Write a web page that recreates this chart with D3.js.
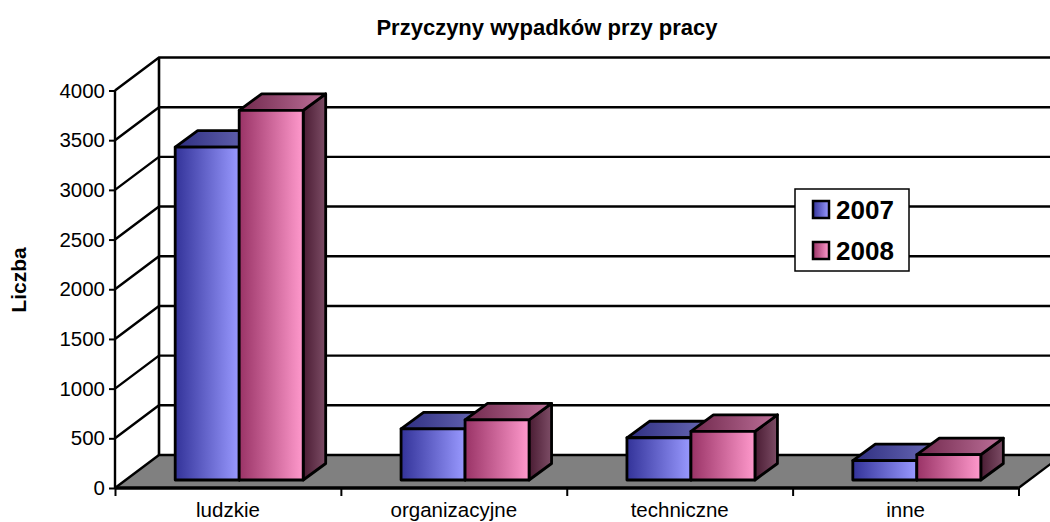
<!DOCTYPE html>
<html>
<head>
<meta charset="utf-8">
<script src="https://cdn.jsdelivr.net/npm/d3@7"></script>
<style>
html, body { margin:0; padding:0; background:#fff; overflow:hidden; }
text { font-family:"Liberation Sans", Arial, sans-serif; fill:#000; }
</style>
</head>
<body>
<div class="c_chart"></div>
<script>

/*DATA
------------------------------------------------------
*/
const categories = ["ludzkie", "organizacyjne", "techniczne", "inne"];
const series = ["2007", "2008"];
const values2007 = [3350, 515, 425, 195];
const values2008 = [3720, 605, 490, 255];
const yTicks = [0, 500, 1000, 1500, 2000, 2500, 3000, 3500, 4000];

/*INITIATE
------------------------------------------------------
*/
const width = 1050;
const height = 522;
const wallDx = 44, wallDy = 33;   //depth of the whole 3d box
const barDx = 22.5, barDy = 16.5; //depth of one bar
const floorGap = 8;               //bars stand a bit behind the front edge

const svg = d3.select(".c_chart").append("svg")
	.attr("width", width)
	.attr("height", height)
	.style("display", "block");

const x = d3.scaleBand().domain(categories).range([115, 1018.5]);
const xSeries = d3.scaleBand().domain(series).range([0, 128]);
const y = d3.scaleLinear().domain([0, 4000]).range([488, 90.5]);

/*GRADIENTS
------------------------------------------------------
*/
const defs = svg.append("defs");
function gradient(id, from, to) {
	const g = defs.append("linearGradient").attr("id", id);
	g.append("stop").attr("offset", "0%").attr("stop-color", from);
	g.append("stop").attr("offset", "100%").attr("stop-color", to);
}
gradient("front2007", "#333399", "#9999ff");
gradient("top2007", "#2e2e80", "#6c6cb8");
gradient("side2007", "#1c1c55", "#4a4a90");
gradient("front2008", "#993366", "#ff99cc");
gradient("top2008", "#70284c", "#bd7099");
gradient("side2008", "#4a1c33", "#7d4d66");

/*WALLS AND FLOOR
------------------------------------------------------
*/
const x0 = x.range()[0], x1 = x.range()[1];
const yBase = y(0);

svg.append("polygon")
	.attr("points", [[x0, yBase], [x0 + wallDx, yBase - wallDy], [x1 + wallDx, yBase - wallDy], [x1, yBase]].join(" "))
	.attr("fill", "#808080");

const grid = svg.append("g").attr("stroke", "#000").attr("stroke-width", 2.4).attr("fill", "none");

grid.selectAll("path.wall")
	.data(yTicks)
	.enter()
	.append("path")
	.attr("d", d => `M${x0},${y(d)}L${x0 + wallDx},${y(d) - wallDy}L${width + 5},${y(d) - wallDy}`);

grid.append("line")
	.attr("x1", x0 + wallDx).attr("x2", x0 + wallDx)
	.attr("y1", y(4000) - wallDy).attr("y2", yBase - wallDy)
	.attr("stroke-width", 2.6);

grid.append("line")
	.attr("x1", x1).attr("x2", x1 + wallDx)
	.attr("y1", yBase).attr("y2", yBase - wallDy);

/*BARS
------------------------------------------------------
*/
const rows = [];
series.forEach((s, i) => {
	const vals = i === 0 ? values2007 : values2008;
	categories.forEach((c, j) => rows.push({s: s, c: c, v: vals[j]}));
});

const bars = svg.selectAll("g.bar")
	.data(rows)
	.enter()
	.append("g")
	.attr("class", "bar")
	.attr("stroke", "#000")
	.attr("stroke-width", 2.8)
	.attr("stroke-linejoin", "round");

function bx(d) { return x(d.c) + (x.bandwidth() - xSeries.range()[1]) / 2 + barDx / 2 + xSeries(d.s); }
const bw = xSeries.bandwidth();
const by = d => y(d.v) - floorGap;
const bb = yBase - floorGap;

bars.append("polygon")
	.attr("fill", d => `url(#side${d.s})`)
	.attr("points", d => [[bx(d) + bw, by(d)], [bx(d) + bw + barDx, by(d) - barDy], [bx(d) + bw + barDx, bb - barDy], [bx(d) + bw, bb]].join(" "));

bars.append("polygon")
	.attr("fill", d => `url(#top${d.s})`)
	.attr("points", d => [[bx(d), by(d)], [bx(d) + barDx, by(d) - barDy], [bx(d) + bw + barDx, by(d) - barDy], [bx(d) + bw, by(d)]].join(" "));

bars.append("rect")
	.attr("fill", d => `url(#front${d.s})`)
	.attr("x", bx)
	.attr("y", by)
	.attr("width", bw)
	.attr("height", d => bb - by(d));

/*AXES
------------------------------------------------------
*/
const axisLeft = d3.axisLeft(y).tickValues(yTicks).tickSize(6).tickPadding(4).tickFormat(d3.format("d"));
const gLeft = svg.append("g").attr("transform", `translate(${x0},0)`).call(axisLeft);
gLeft.selectAll("path").attr("stroke-width", 2.4).attr("d", `M${0},${y(4000)}V${yBase}`);
gLeft.selectAll("line").attr("stroke-width", 2);
gLeft.selectAll("text").attr("font-family", "'Liberation Sans', Arial, sans-serif").attr("font-size", 20.5);

const axisBottom = d3.axisBottom(d3.scaleLinear().domain([0, 4]).range([x0, x1])).ticks(4).tickSize(8).tickFormat("");
const gBottom = svg.append("g").attr("transform", `translate(0,${yBase})`).call(axisBottom);
gBottom.selectAll("path").attr("stroke-width", 3.5).attr("d", `M${x0},0H${x1}`);
gBottom.selectAll("line").attr("stroke-width", 2);

//labels sit just above the bottom edge so the descenders stay visible
svg.selectAll("text.cat")
	.data(categories)
	.enter()
	.append("text")
	.attr("class", "cat")
	.attr("x", d => x(d) + x.bandwidth() / 2)
	.attr("y", 517)
	.attr("text-anchor", "middle")
	.attr("font-size", 20.5)
	.text(d => d);

/*TITLES
------------------------------------------------------
*/
svg.append("text")
	.attr("x", 547).attr("y", 35)
	.attr("text-anchor", "middle")
	.attr("font-size", 22)
	.attr("font-weight", "bold")
	.text("Przyczyny wypadków przy pracy");

svg.append("text")
	.attr("transform", "translate(26,280) rotate(-90)")
	.attr("text-anchor", "middle")
	.attr("font-size", 21)
	.attr("font-weight", "bold")
	.text("Liczba");

/*LEGEND
------------------------------------------------------
*/
const legend = svg.append("g");
legend.append("rect")
	.attr("x", 795).attr("y", 189)
	.attr("width", 114).attr("height", 82)
	.attr("fill", "#fff").attr("stroke", "#000").attr("stroke-width", 1.5);

const legendY = d3.scalePoint().domain(series).range([219, 260]);

legend.selectAll("rect.swatch")
	.data(series)
	.enter()
	.append("rect")
	.attr("class", "swatch")
	.attr("x", 813).attr("y", d => legendY(d) - 18)
	.attr("width", 16).attr("height", 17)
	.attr("fill", d => `url(#front${d})`)
	.attr("stroke", "#000").attr("stroke-width", 2.5);

legend.selectAll("text")
	.data(series)
	.enter()
	.append("text")
	.attr("x", 836).attr("y", d => legendY(d))
	.attr("font-size", 26)
	.attr("font-weight", "bold")
	.text(d => d);

</script>
</body>
</html>
